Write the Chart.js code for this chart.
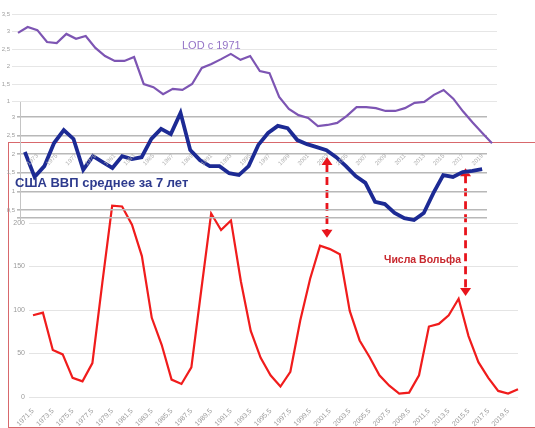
<!DOCTYPE html>
<html><head><meta charset="utf-8">
<script src="https://cdn.jsdelivr.net/npm/chart.js@4/dist/chart.umd.min.js"></script>
<style>
html,body{margin:0;padding:0;background:#fff;overflow:hidden;width:535px;height:428px;position:relative;font-family:"Liberation Sans",Arial,sans-serif}
.layer{position:absolute}
#frame{position:absolute;left:8px;top:142px;width:540px;height:284px;border:1px solid #d8686c;}
.lbl{position:absolute;white-space:nowrap;line-height:1}
</style></head><body>
<div id="frame"></div>
<div class="layer" style="left:9px;top:143px"><canvas id="red" width="526" height="284"></canvas></div>
<div class="layer" style="left:0;top:90px"><canvas id="blue" width="510" height="140"></canvas></div>
<div class="layer" style="left:0;top:0"><canvas id="lod" width="510" height="170"></canvas></div>
<div class="lbl" style="left:182px;top:40px;font-size:11px;color:#9473c6">LOD с 1971</div>
<div class="lbl" style="left:15px;top:176px;font-size:13px;font-weight:bold;color:#2e3b8e">США ВВП среднее за 7 лет</div>
<div class="lbl" style="left:384px;top:254px;font-size:10.5px;font-weight:bold;color:#c8282e">Числа Вольфа</div>
<script>
// ---- Data ----
const sunYears = ["1971,5","1972,5","1973,5","1974,5","1975,5","1976,5","1977,5","1978,5","1979,5","1980,5",
 "1981,5","1982,5","1983,5","1984,5","1985,5","1986,5","1987,5","1988,5","1989,5","1990,5",
 "1991,5","1992,5","1993,5","1994,5","1995,5","1996,5","1997,5","1998,5","1999,5","2000,5",
 "2001,5","2002,5","2003,5","2004,5","2005,5","2006,5","2007,5","2008,5","2009,5","2010,5",
 "2011,5","2012,5","2013,5","2014,5","2015,5","2016,5","2017,5","2018,5","2019,5","2020,5"];
const wolfNumbers = [94,97,54,49,22,18,39,131,220,219,198,162,91,60,20,15,34,123,211,192,
 203,133,76,45,25,12,29,88,136,174,170,164,99,65,46,25,13,4,5,25,
 81,84,94,113,70,40,22,7,4,9];

const lodYears = [1971,1972,1973,1974,1975,1976,1977,1978,1979,1980,1981,1982,1983,1984,1985,1986,1987,1988,1989,1990,
 1991,1992,1993,1994,1995,1996,1997,1998,1999,2000,2001,2002,2003,2004,2005,2006,2007,2008,2009,2010,
 2011,2012,2013,2014,2015,2016,2017,2018,2019,2020];
const lodValues = [2.96,3.13,3.04,2.70,2.67,2.93,2.79,2.87,2.53,2.30,2.16,2.16,2.27,1.50,1.41,1.21,1.36,1.33,1.50,1.96,
 2.07,2.21,2.36,2.19,2.30,1.87,1.81,1.13,0.79,0.61,0.53,0.30,0.33,0.39,0.59,0.84,0.84,0.81,0.73,0.73,
 0.81,0.96,0.99,1.19,1.33,1.08,0.72,0.40,0.10,-0.19];
const lodTickYears = [1973,1975,1977,1979,1981,1983,1985,1987,1989,1991,1993,1995,1997,1999,2001,2003,2005,2007,2009,2011,2013,2015,2017,2019];
const lodTickValues = [1,1.5,2,2.5,3,3.5];

const gdpValues = [2.06,1.39,1.68,2.30,2.65,2.41,1.58,1.95,1.79,1.63,1.95,1.87,1.92,2.41,2.68,2.54,3.11,2.11,1.84,1.68,
 1.68,1.49,1.44,1.68,2.25,2.57,2.76,2.70,2.38,2.27,2.19,2.11,1.92,1.68,1.41,1.23,0.72,0.66,0.42,0.28,
 0.23,0.42,0.96,1.44,1.39,1.52,1.55,1.60];
const gdpTickValues = [0.3,0.5,1,1.5,2,2.5,3];

// Annotation arrows (in sunspot-chart data units)
const arrowAt = [29.7, 43.7];
const arrowTop = [276, 263];
const arrowBottom = [183, 116];

const fmt = v => String(v).replace('.', ',');
const noAnim = {animation:false, responsive:false, events:[]};

const arrowPlugin = {
  id:'arrows',
  afterDatasetsDraw(chart){
    const {ctx, scales:{x, y}} = chart;
    ctx.save();
    ctx.strokeStyle = '#e8141c'; ctx.fillStyle = '#e8141c'; ctx.lineWidth = 2.8;
    arrowAt.forEach((a, i) => {
      const px = x.getPixelForValue(a);
      const yt = y.getPixelForValue(arrowTop[i]);
      const yb = y.getPixelForValue(arrowBottom[i]);
      ctx.setLineDash([8,5]);
      ctx.beginPath(); ctx.moveTo(px, yt + 7); ctx.lineTo(px, yb - 7); ctx.stroke();
      ctx.setLineDash([]);
      ctx.beginPath(); ctx.moveTo(px, yt); ctx.lineTo(px - 5.5, yt + 8); ctx.lineTo(px + 5.5, yt + 8); ctx.closePath(); ctx.fill();
      ctx.beginPath(); ctx.moveTo(px, yb); ctx.lineTo(px - 5.5, yb - 8); ctx.lineTo(px + 5.5, yb - 8); ctx.closePath(); ctx.fill();
    });
    ctx.restore();
  }
};

// ---- Sunspot (Wolf numbers) chart ----
new Chart(document.getElementById('red'), {
  type:'line',
  data:{labels:sunYears, datasets:[{data:wolfNumbers, borderColor:'#f01c1c', borderWidth:2.2, pointRadius:0, tension:0, clip:false}]},
  options:{...noAnim,
    layout:{padding:{top:36.5, right:17, left:0, bottom:0}},
    plugins:{legend:{display:false}, tooltip:{enabled:false}},
    scales:{
      x:{offset:false, grid:{display:false}, border:{display:false},
         afterFit:s=>{s.height=30;},
         ticks:{autoSkip:false, minRotation:45, maxRotation:45, padding:2, color:'#9a9a9a', font:{size:7, family:'Liberation Sans'},
           callback:(v,i)=> i%2===0 ? sunYears[i] : ''}},
      y:{min:0, max:250, afterFit:s=>{s.width=24;},
         afterBuildTicks:s=>{s.ticks = s.ticks.filter(t=>t.value<=200);},
         grid:{color:'#e4e4e4', tickLength:4}, border:{display:false},
         ticks:{stepSize:50, padding:4, color:'#9a9a9a', font:{size:7, family:'Liberation Sans'}}}
    }
  },
  plugins:[arrowPlugin]
});

// ---- US GDP 7-year average chart ----
new Chart(document.getElementById('blue'), {
  type:'line',
  data:{datasets:[{data:gdpValues.map((v,i)=>({x:i,y:v})), borderColor:'#1c2a94', borderWidth:3.8, pointRadius:0, tension:0, clip:false}]},
  options:{...noAnim,
    layout:{padding:{top:12.1, right:23, left:0, bottom:8.8}},
    plugins:{legend:{display:false}, tooltip:{enabled:false}},
    scales:{
      x:{type:'linear', min:-0.5, max:47.5, display:false},
      y:{min:0.2, max:3.4, afterFit:s=>{s.width=20;},
         afterBuildTicks:s=>{s.ticks = gdpTickValues.map(v=>({value:v}));},
         grid:{color:'#b8b8b8', lineWidth:1.6, tickLength:3}, border:{display:true, color:'#c4c4c4'},
         ticks:{padding:2, color:'#9a9a9a', font:{size:6, family:'Liberation Sans'},
           callback:v=> v===0.3 ? '' : fmt(v)}}
    }
  }
});

// ---- LOD chart ----
new Chart(document.getElementById('lod'), {
  type:'line',
  data:{datasets:[{data:lodYears.map((yr,i)=>({x:yr,y:lodValues[i]})), borderColor:'#7d55b3', borderWidth:2.2, pointRadius:0, tension:0, clip:false}]},
  options:{...noAnim,
    layout:{padding:{top:14, right:13, left:0, bottom:0}},
    plugins:{legend:{display:false}, tooltip:{enabled:false}},
    scales:{
      x:{type:'linear', min:1970.69, max:2020.52, grid:{display:false}, border:{display:false},
         afterFit:s=>{s.height=26.5;},
         afterBuildTicks:s=>{s.ticks = lodTickYears.map(v=>({value:v}));},
         ticks:{autoSkip:false, minRotation:45, maxRotation:45, padding:1, color:'#b0b0b0', font:{size:6, family:'Liberation Sans'},
           callback:v=>String(v)}},
      y:{min:-0.2, max:3.5, afterFit:s=>{s.width=15;},
         afterBuildTicks:s=>{s.ticks = lodTickValues.map(v=>({value:v}));},
         grid:{color:'#e6e6e6', tickLength:3}, border:{display:false},
         ticks:{padding:2, color:'#a0a0a0', font:{size:6, family:'Liberation Sans'}, callback:v=>fmt(v)}}
    }
  }
});
</script>
</body></html>
